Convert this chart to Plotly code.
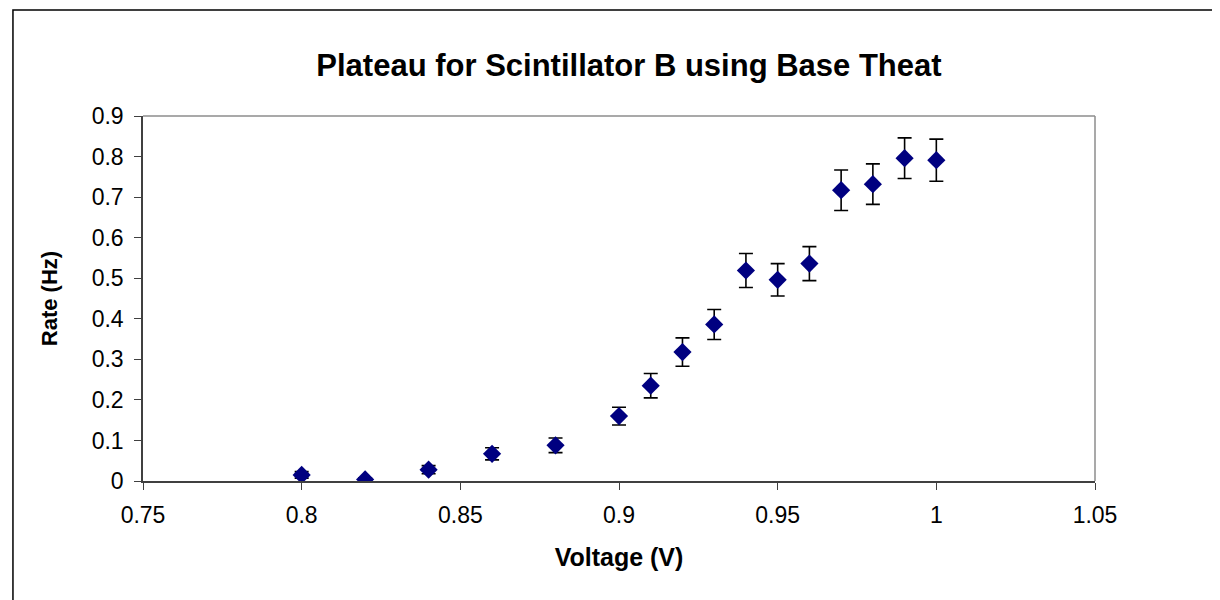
import plotly.graph_objects as go

# Dane
voltage = [0.80, 0.82, 0.84, 0.86, 0.88, 0.90, 0.91, 0.92, 0.93, 0.94, 0.95, 0.96, 0.97, 0.98, 0.99, 1.00]
rate = [0.015, 0.004, 0.028, 0.067, 0.088, 0.160, 0.235, 0.318, 0.386, 0.519, 0.496, 0.536, 0.717, 0.732, 0.796, 0.791]
rate_err = [0.008, 0.004, 0.010, 0.015, 0.018, 0.022, 0.030, 0.035, 0.037, 0.042, 0.040, 0.042, 0.050, 0.050, 0.050, 0.052]

FONT = "Liberation Sans, Arial, sans-serif"

fig = go.Figure()

fig.add_trace(go.Scatter(
    x=voltage,
    y=rate,
    mode="markers",
    marker=dict(symbol="diamond", size=14, color="#000080"),
    error_y=dict(type="data", array=rate_err, visible=True,
                 color="black", thickness=1.6, width=7),
    showlegend=False,
))

fig.update_layout(
    width=1220,
    height=600,
    paper_bgcolor="white",
    plot_bgcolor="white",
    margin=dict(l=135, r=133, t=108, b=127),
    font=dict(family=FONT, color="black"),
    title=dict(
        text="<b>Plateau for Scintillator B using Base Theat</b>",
        font=dict(size=31, family=FONT, color="black"),
        x=0.509, xanchor="center", y=0.905, yanchor="middle",
    ),
    xaxis=dict(
        range=[0.75, 1.05],
        dtick=0.05,
        tick0=0.75,
        showgrid=False,
        zeroline=False,
        showline=True,
        linecolor="#404040",
        linewidth=1.5,
        ticks="outside",
        ticklen=7,
        tickcolor="#404040",
        ticklabelstandoff=6,
        tickfont=dict(size=23, family=FONT),
        title=dict(text="<b>Voltage (V)</b>", font=dict(size=25, family=FONT), standoff=21),
    ),
    yaxis=dict(
        range=[0, 0.9],
        dtick=0.1,
        showgrid=False,
        zeroline=False,
        showline=True,
        linecolor="#404040",
        linewidth=1.5,
        ticks="outside",
        ticklen=7,
        tickcolor="#404040",
        ticklabelstandoff=6,
        tickfont=dict(size=23, family=FONT),
        title=dict(text="<b>Rate (Hz)</b>", font=dict(size=22, family=FONT), standoff=28),
    ),
)

# Górna i prawa krawędź obszaru wykresu (szara)
fig.add_shape(type="line", xref="paper", yref="paper", x0=0, x1=1, y0=1, y1=1,
              line=dict(color="#8c8c8c", width=1.5))
fig.add_shape(type="line", xref="paper", yref="paper", x0=1, x1=1, y0=0, y1=1,
              line=dict(color="#8c8c8c", width=1.5))

# Ramka całego wykresu
fig.add_shape(type="rect", xref="paper", yref="paper",
              x0=-0.1366, x1=1.1386, y0=-0.37, y1=1.2904,
              line=dict(color="black", width=1.5), fillcolor="rgba(0,0,0,0)")

fig.write_html("out.html")
